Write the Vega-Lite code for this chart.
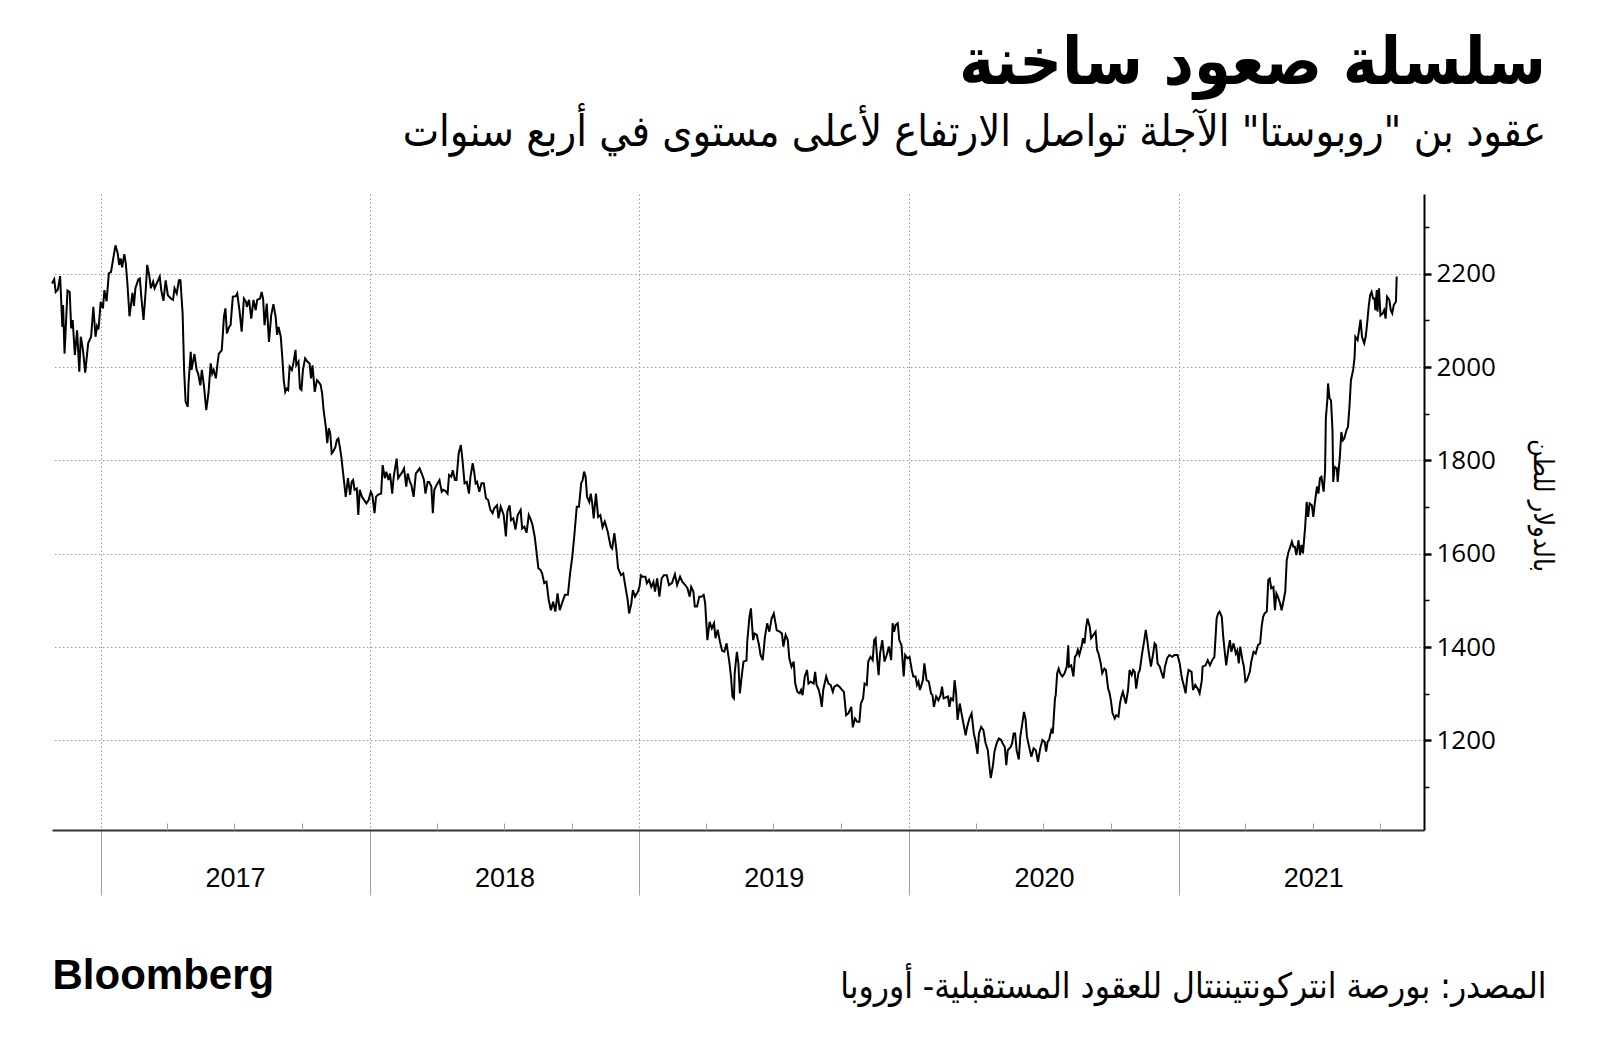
{
"$schema": "https://vega.github.io/schema/vega-lite/v6.json",
"autosize": {"type": "none"},
"width": 1372,
"height": 636,
"padding": {"left": 52, "top": 194, "right": 176, "bottom": 224},
"background": "white",
"title": {
  "text": "سلسلة صعود ساخنة",
  "subtitle": "عقود بن \"روبوستا\" الآجلة تواصل الارتفاع لأعلى مستوى في أربع سنوات",
  "anchor": "end", "frame": "group", "dx": 122, "offset": 38,
  "font": "DejaVu Sans Condensed", "fontSize": 66, "fontWeight": "bold", "color": "#000000",
  "subtitleFont": "DejaVu Sans Condensed", "subtitleFontSize": 43, "subtitleColor": "#000000", "subtitlePadding": 14
},
"config": {"view": {"stroke": null}},
"data": {"values": [
{"date":"2016-10-27","price":2179},{"date":"2016-10-30","price":2188},{"date":"2016-11-01","price":2161},{"date":"2016-11-04","price":2166},{"date":"2016-11-07","price":2195},{"date":"2016-11-10","price":2086},{"date":"2016-11-11","price":2133},{"date":"2016-11-13","price":2029},{"date":"2016-11-17","price":2164},{"date":"2016-11-20","price":2161},{"date":"2016-11-22","price":2083},{"date":"2016-11-24","price":2101},{"date":"2016-11-27","price":2026},{"date":"2016-11-30","price":2079},{"date":"2016-12-03","price":1990},{"date":"2016-12-05","price":2065},{"date":"2016-12-08","price":2036},{"date":"2016-12-11","price":1988},{"date":"2016-12-15","price":2051},{"date":"2016-12-19","price":2065},{"date":"2016-12-22","price":2129},{"date":"2016-12-25","price":2065},{"date":"2016-12-27","price":2088},{"date":"2016-12-29","price":2081},
{"date":"2017-01-01","price":2140},{"date":"2017-01-04","price":2126},{"date":"2017-01-06","price":2165},{"date":"2017-01-09","price":2141},{"date":"2017-01-12","price":2201},{"date":"2017-01-15","price":2204},{"date":"2017-01-18","price":2233},{"date":"2017-01-21","price":2261},{"date":"2017-01-24","price":2244},{"date":"2017-01-26","price":2219},{"date":"2017-01-28","price":2233},{"date":"2017-01-30","price":2214},{"date":"2017-02-02","price":2242},{"date":"2017-02-04","price":2222},{"date":"2017-02-06","price":2183},{"date":"2017-02-09","price":2109},{"date":"2017-02-13","price":2159},{"date":"2017-02-15","price":2131},{"date":"2017-02-17","price":2169},{"date":"2017-02-21","price":2188},{"date":"2017-02-23","price":2190},{"date":"2017-02-25","price":2151},{"date":"2017-02-28","price":2101},{"date":"2017-03-03","price":2165},{"date":"2017-03-05","price":2219},{"date":"2017-03-08","price":2194},{"date":"2017-03-10","price":2169},{"date":"2017-03-13","price":2183},{"date":"2017-03-15","price":2169},{"date":"2017-03-22","price":2194},{"date":"2017-03-24","price":2165},{"date":"2017-03-27","price":2142},{"date":"2017-03-30","price":2186},{"date":"2017-04-02","price":2154},{"date":"2017-04-06","price":2147},{"date":"2017-04-09","price":2144},{"date":"2017-04-11","price":2169},{"date":"2017-04-14","price":2158},{"date":"2017-04-17","price":2186},{"date":"2017-04-19","price":2186},{"date":"2017-04-22","price":2115},{"date":"2017-04-24","price":1994},{"date":"2017-04-26","price":1926},{"date":"2017-04-29","price":1915},{"date":"2017-04-30","price":1965},{"date":"2017-05-03","price":2033},{"date":"2017-05-04","price":1994},{"date":"2017-05-08","price":2028},{"date":"2017-05-11","price":1994},{"date":"2017-05-13","price":1986},{"date":"2017-05-16","price":1961},{"date":"2017-05-18","price":1994},{"date":"2017-05-21","price":1958},{"date":"2017-05-24","price":1908},{"date":"2017-05-27","price":1944},{"date":"2017-05-30","price":2008},{"date":"2017-06-01","price":1986},{"date":"2017-06-03","price":1994},{"date":"2017-06-06","price":1976},{"date":"2017-06-08","price":2004},{"date":"2017-06-10","price":2029},{"date":"2017-06-14","price":2036},{"date":"2017-06-17","price":2108},{"date":"2017-06-19","price":2126},{"date":"2017-06-21","price":2072},{"date":"2017-06-24","price":2086},{"date":"2017-06-26","price":2090},{"date":"2017-06-29","price":2151},{"date":"2017-07-03","price":2152},{"date":"2017-07-05","price":2158},{"date":"2017-07-08","price":2122},{"date":"2017-07-11","price":2076},{"date":"2017-07-14","price":2147},{"date":"2017-07-17","price":2140},{"date":"2017-07-18","price":2129},{"date":"2017-07-21","price":2144},{"date":"2017-07-24","price":2104},{"date":"2017-07-27","price":2144},{"date":"2017-07-30","price":2122},{"date":"2017-08-01","price":2144},{"date":"2017-08-05","price":2147},{"date":"2017-08-07","price":2161},{"date":"2017-08-09","price":2147},{"date":"2017-08-11","price":2090},{"date":"2017-08-14","price":2136},{"date":"2017-08-17","price":2054},{"date":"2017-08-20","price":2111},{"date":"2017-08-23","price":2135},{"date":"2017-08-26","price":2108},{"date":"2017-08-28","price":2069},{"date":"2017-08-30","price":2086},{"date":"2017-09-02","price":2065},{"date":"2017-09-04","price":2022},{"date":"2017-09-06","price":1972},{"date":"2017-09-08","price":1947},{"date":"2017-09-10","price":1954},{"date":"2017-09-12","price":1951},{"date":"2017-09-14","price":2001},{"date":"2017-09-17","price":1994},{"date":"2017-09-19","price":2008},{"date":"2017-09-22","price":2037},{"date":"2017-09-23","price":2004},{"date":"2017-09-26","price":2012},{"date":"2017-09-28","price":1954},{"date":"2017-09-30","price":1951},{"date":"2017-10-02","price":1994},{"date":"2017-10-05","price":2019},{"date":"2017-10-08","price":2012},{"date":"2017-10-11","price":2008},{"date":"2017-10-13","price":1976},{"date":"2017-10-15","price":2004},{"date":"2017-10-18","price":1947},{"date":"2017-10-21","price":1972},{"date":"2017-10-23","price":1969},{"date":"2017-10-26","price":1962},{"date":"2017-10-28","price":1944},{"date":"2017-10-30","price":1908},{"date":"2017-11-02","price":1872},{"date":"2017-11-04","price":1837},{"date":"2017-11-06","price":1869},{"date":"2017-11-08","price":1858},{"date":"2017-11-10","price":1815},{"date":"2017-11-12","price":1819},{"date":"2017-11-15","price":1829},{"date":"2017-11-17","price":1844},{"date":"2017-11-19","price":1847},{"date":"2017-11-21","price":1829},{"date":"2017-11-23","price":1808},{"date":"2017-11-26","price":1765},{"date":"2017-11-29","price":1722},{"date":"2017-12-02","price":1762},{"date":"2017-12-05","price":1726},{"date":"2017-12-07","price":1754},{"date":"2017-12-09","price":1758},{"date":"2017-12-11","price":1737},{"date":"2017-12-14","price":1740},{"date":"2017-12-16","price":1683},{"date":"2017-12-18","price":1737},{"date":"2017-12-21","price":1722},{"date":"2017-12-24","price":1715},{"date":"2017-12-27","price":1708},{"date":"2017-12-30","price":1715},
{"date":"2018-01-02","price":1733},{"date":"2018-01-04","price":1726},{"date":"2018-01-07","price":1687},{"date":"2018-01-09","price":1722},{"date":"2018-01-12","price":1727},{"date":"2018-01-16","price":1729},{"date":"2018-01-18","price":1790},{"date":"2018-01-21","price":1762},{"date":"2018-01-23","price":1776},{"date":"2018-01-26","price":1758},{"date":"2018-01-28","price":1772},{"date":"2018-01-31","price":1729},{"date":"2018-02-02","price":1765},{"date":"2018-02-06","price":1804},{"date":"2018-02-08","price":1762},{"date":"2018-02-11","price":1769},{"date":"2018-02-14","price":1776},{"date":"2018-02-16","price":1783},{"date":"2018-02-19","price":1744},{"date":"2018-02-21","price":1772},{"date":"2018-02-24","price":1754},{"date":"2018-02-26","price":1747},{"date":"2018-03-01","price":1722},{"date":"2018-03-04","price":1772},{"date":"2018-03-06","price":1776},{"date":"2018-03-09","price":1783},{"date":"2018-03-12","price":1772},{"date":"2018-03-15","price":1758},{"date":"2018-03-17","price":1729},{"date":"2018-03-20","price":1754},{"date":"2018-03-22","price":1754},{"date":"2018-03-25","price":1744},{"date":"2018-03-27","price":1687},{"date":"2018-03-29","price":1737},{"date":"2018-04-01","price":1747},{"date":"2018-04-05","price":1758},{"date":"2018-04-08","price":1733},{"date":"2018-04-10","price":1737},{"date":"2018-04-13","price":1735},{"date":"2018-04-16","price":1729},{"date":"2018-04-18","price":1769},{"date":"2018-04-21","price":1765},{"date":"2018-04-23","price":1779},{"date":"2018-04-26","price":1758},{"date":"2018-04-28","price":1758},{"date":"2018-05-01","price":1815},{"date":"2018-05-04","price":1833},{"date":"2018-05-06","price":1804},{"date":"2018-05-09","price":1751},{"date":"2018-05-12","price":1754},{"date":"2018-05-15","price":1729},{"date":"2018-05-17","price":1765},{"date":"2018-05-20","price":1794},{"date":"2018-05-22","price":1776},{"date":"2018-05-24","price":1751},{"date":"2018-05-26","price":1754},{"date":"2018-05-29","price":1733},{"date":"2018-06-01","price":1751},{"date":"2018-06-04","price":1751},{"date":"2018-06-07","price":1719},{"date":"2018-06-10","price":1715},{"date":"2018-06-13","price":1694},{"date":"2018-06-16","price":1687},{"date":"2018-06-18","price":1697},{"date":"2018-06-22","price":1704},{"date":"2018-06-24","price":1676},{"date":"2018-06-27","price":1701},{"date":"2018-07-01","price":1683},{"date":"2018-07-04","price":1637},{"date":"2018-07-06","price":1690},{"date":"2018-07-09","price":1704},{"date":"2018-07-11","price":1672},{"date":"2018-07-14","price":1676},{"date":"2018-07-17","price":1652},{"date":"2018-07-20","price":1683},{"date":"2018-07-24","price":1694},{"date":"2018-07-26","price":1654},{"date":"2018-07-29","price":1658},{"date":"2018-08-01","price":1645},{"date":"2018-08-04","price":1683},{"date":"2018-08-07","price":1672},{"date":"2018-08-09","price":1662},{"date":"2018-08-12","price":1637},{"date":"2018-08-15","price":1597},{"date":"2018-08-17","price":1569},{"date":"2018-08-20","price":1565},{"date":"2018-08-22","price":1558},{"date":"2018-08-25","price":1537},{"date":"2018-08-28","price":1540},{"date":"2018-08-31","price":1501},{"date":"2018-09-03","price":1479},{"date":"2018-09-06","price":1497},{"date":"2018-09-09","price":1476},{"date":"2018-09-12","price":1515},{"date":"2018-09-15","price":1479},{"date":"2018-09-18","price":1494},{"date":"2018-09-22","price":1512},{"date":"2018-09-26","price":1512},{"date":"2018-09-29","price":1558},{"date":"2018-10-02","price":1594},{"date":"2018-10-05","price":1644},{"date":"2018-10-08","price":1701},{"date":"2018-10-11","price":1701},{"date":"2018-10-14","price":1751},{"date":"2018-10-16","price":1758},{"date":"2018-10-18","price":1776},{"date":"2018-10-20","price":1765},{"date":"2018-10-22","price":1722},{"date":"2018-10-25","price":1711},{"date":"2018-10-27","price":1729},{"date":"2018-10-29","price":1708},{"date":"2018-10-31","price":1676},{"date":"2018-11-03","price":1729},{"date":"2018-11-06","price":1679},{"date":"2018-11-09","price":1683},{"date":"2018-11-12","price":1657},{"date":"2018-11-15","price":1669},{"date":"2018-11-19","price":1647},{"date":"2018-11-23","price":1615},{"date":"2018-11-25","price":1611},{"date":"2018-11-28","price":1644},{"date":"2018-12-01","price":1604},{"date":"2018-12-03","price":1569},{"date":"2018-12-07","price":1554},{"date":"2018-12-10","price":1558},{"date":"2018-12-13","price":1529},{"date":"2018-12-16","price":1501},{"date":"2018-12-18","price":1472},{"date":"2018-12-21","price":1494},{"date":"2018-12-23","price":1522},{"date":"2018-12-26","price":1508},{"date":"2018-12-30","price":1519},
{"date":"2019-01-01","price":1529},{"date":"2019-01-03","price":1554},{"date":"2019-01-05","price":1551},{"date":"2019-01-09","price":1551},{"date":"2019-01-11","price":1537},{"date":"2019-01-14","price":1544},{"date":"2019-01-17","price":1529},{"date":"2019-01-20","price":1540},{"date":"2019-01-22","price":1519},{"date":"2019-01-25","price":1547},{"date":"2019-01-28","price":1508},{"date":"2019-01-31","price":1547},{"date":"2019-02-03","price":1554},{"date":"2019-02-07","price":1554},{"date":"2019-02-10","price":1533},{"date":"2019-02-14","price":1537},{"date":"2019-02-18","price":1556},{"date":"2019-02-21","price":1533},{"date":"2019-02-25","price":1551},{"date":"2019-02-28","price":1540},{"date":"2019-03-04","price":1533},{"date":"2019-03-07","price":1526},{"date":"2019-03-10","price":1508},{"date":"2019-03-12","price":1529},{"date":"2019-03-15","price":1519},{"date":"2019-03-17","price":1487},{"date":"2019-03-20","price":1487},{"date":"2019-03-23","price":1508},{"date":"2019-03-26","price":1508},{"date":"2019-03-29","price":1512},{"date":"2019-03-31","price":1494},{"date":"2019-04-03","price":1415},{"date":"2019-04-06","price":1454},{"date":"2019-04-09","price":1440},{"date":"2019-04-12","price":1451},{"date":"2019-04-14","price":1419},{"date":"2019-04-17","price":1437},{"date":"2019-04-20","price":1412},{"date":"2019-04-23","price":1392},{"date":"2019-04-26","price":1390},{"date":"2019-04-29","price":1408},{"date":"2019-05-03","price":1365},{"date":"2019-05-05","price":1337},{"date":"2019-05-07","price":1294},{"date":"2019-05-09","price":1290},{"date":"2019-05-10","price":1344},{"date":"2019-05-13","price":1390},{"date":"2019-05-15","price":1365},{"date":"2019-05-17","price":1301},{"date":"2019-05-20","price":1344},{"date":"2019-05-22","price":1369},{"date":"2019-05-26","price":1371},{"date":"2019-05-27","price":1411},{"date":"2019-05-30","price":1465},{"date":"2019-06-01","price":1483},{"date":"2019-06-04","price":1415},{"date":"2019-06-06","price":1429},{"date":"2019-06-09","price":1426},{"date":"2019-06-12","price":1404},{"date":"2019-06-14","price":1383},{"date":"2019-06-17","price":1372},{"date":"2019-06-20","price":1422},{"date":"2019-06-23","price":1451},{"date":"2019-06-26","price":1433},{"date":"2019-06-29","price":1461},{"date":"2019-07-02","price":1472},{"date":"2019-07-04","price":1454},{"date":"2019-07-06","price":1436},{"date":"2019-07-10","price":1433},{"date":"2019-07-13","price":1429},{"date":"2019-07-15","price":1401},{"date":"2019-07-18","price":1426},{"date":"2019-07-21","price":1415},{"date":"2019-07-23","price":1376},{"date":"2019-07-26","price":1358},{"date":"2019-07-29","price":1369},{"date":"2019-07-31","price":1322},{"date":"2019-08-03","price":1304},{"date":"2019-08-06","price":1301},{"date":"2019-08-08","price":1308},{"date":"2019-08-10","price":1297},{"date":"2019-08-13","price":1337},{"date":"2019-08-16","price":1351},{"date":"2019-08-18","price":1322},{"date":"2019-08-21","price":1326},{"date":"2019-08-25","price":1322},{"date":"2019-08-27","price":1347},{"date":"2019-08-29","price":1319},{"date":"2019-09-01","price":1308},{"date":"2019-09-03","price":1294},{"date":"2019-09-05","price":1272},{"date":"2019-09-07","price":1308},{"date":"2019-09-11","price":1337},{"date":"2019-09-14","price":1322},{"date":"2019-09-17","price":1319},{"date":"2019-09-20","price":1304},{"date":"2019-09-22","price":1315},{"date":"2019-09-26","price":1319},{"date":"2019-09-29","price":1315},{"date":"2019-10-01","price":1311},{"date":"2019-10-05","price":1304},{"date":"2019-10-08","price":1254},{"date":"2019-10-11","price":1258},{"date":"2019-10-15","price":1272},{"date":"2019-10-17","price":1228},{"date":"2019-10-20","price":1247},{"date":"2019-10-23","price":1240},{"date":"2019-10-26","price":1240},{"date":"2019-10-28","price":1279},{"date":"2019-10-31","price":1290},{"date":"2019-11-02","price":1322},{"date":"2019-11-05","price":1319},{"date":"2019-11-07","price":1369},{"date":"2019-11-10","price":1379},{"date":"2019-11-13","price":1372},{"date":"2019-11-15","price":1415},{"date":"2019-11-17","price":1419},{"date":"2019-11-19","price":1376},{"date":"2019-11-21","price":1340},{"date":"2019-11-23","price":1386},{"date":"2019-11-26","price":1415},{"date":"2019-11-29","price":1369},{"date":"2019-12-02","price":1383},{"date":"2019-12-05","price":1401},{"date":"2019-12-08","price":1372},{"date":"2019-12-10","price":1451},{"date":"2019-12-12","price":1433},{"date":"2019-12-14","price":1447},{"date":"2019-12-17","price":1451},{"date":"2019-12-19","price":1415},{"date":"2019-12-22","price":1404},{"date":"2019-12-25","price":1337},{"date":"2019-12-27","price":1383},{"date":"2019-12-30","price":1376},
{"date":"2020-01-02","price":1379},{"date":"2020-01-05","price":1351},{"date":"2020-01-07","price":1337},{"date":"2020-01-10","price":1337},{"date":"2020-01-12","price":1319},{"date":"2020-01-14","price":1326},{"date":"2020-01-16","price":1308},{"date":"2020-01-20","price":1329},{"date":"2020-01-22","price":1365},{"date":"2020-01-25","price":1329},{"date":"2020-01-28","price":1326},{"date":"2020-01-31","price":1301},{"date":"2020-02-02","price":1297},{"date":"2020-02-04","price":1272},{"date":"2020-02-07","price":1294},{"date":"2020-02-10","price":1286},{"date":"2020-02-13","price":1297},{"date":"2020-02-15","price":1315},{"date":"2020-02-17","price":1290},{"date":"2020-02-23","price":1294},{"date":"2020-02-25","price":1272},{"date":"2020-02-27","price":1290},{"date":"2020-03-01","price":1286},{"date":"2020-03-03","price":1329},{"date":"2020-03-05","price":1301},{"date":"2020-03-07","price":1244},{"date":"2020-03-10","price":1279},{"date":"2020-03-12","price":1261},{"date":"2020-03-14","price":1244},{"date":"2020-03-18","price":1211},{"date":"2020-03-20","price":1229},{"date":"2020-03-23","price":1247},{"date":"2020-03-26","price":1258},{"date":"2020-03-29","price":1215},{"date":"2020-03-31","price":1201},{"date":"2020-04-03","price":1171},{"date":"2020-04-05","price":1215},{"date":"2020-04-08","price":1229},{"date":"2020-04-11","price":1222},{"date":"2020-04-14","price":1194},{"date":"2020-04-17","price":1179},{"date":"2020-04-19","price":1147},{"date":"2020-04-21","price":1119},{"date":"2020-04-24","price":1147},{"date":"2020-04-26","price":1176},{"date":"2020-04-29","price":1194},{"date":"2020-05-02","price":1204},{"date":"2020-05-05","price":1201},{"date":"2020-05-07","price":1194},{"date":"2020-05-10","price":1186},{"date":"2020-05-12","price":1147},{"date":"2020-05-14","price":1179},{"date":"2020-05-18","price":1186},{"date":"2020-05-20","price":1194},{"date":"2020-05-22","price":1215},{"date":"2020-05-24","price":1215},{"date":"2020-05-26","price":1179},{"date":"2020-05-29","price":1159},{"date":"2020-05-31","price":1208},{"date":"2020-06-02","price":1229},{"date":"2020-06-05","price":1261},{"date":"2020-06-07","price":1247},{"date":"2020-06-09","price":1208},{"date":"2020-06-12","price":1186},{"date":"2020-06-15","price":1165},{"date":"2020-06-18","price":1183},{"date":"2020-06-21","price":1179},{"date":"2020-06-24","price":1154},{"date":"2020-06-27","price":1183},{"date":"2020-06-30","price":1201},{"date":"2020-07-03","price":1197},{"date":"2020-07-05","price":1176},{"date":"2020-07-07","price":1197},{"date":"2020-07-09","price":1201},{"date":"2020-07-12","price":1222},{"date":"2020-07-14","price":1215},{"date":"2020-07-17","price":1290},{"date":"2020-07-18","price":1297},{"date":"2020-07-20","price":1344},{"date":"2020-07-22","price":1354},{"date":"2020-07-24","price":1344},{"date":"2020-07-27","price":1337},{"date":"2020-07-30","price":1344},{"date":"2020-08-02","price":1358},{"date":"2020-08-04","price":1404},{"date":"2020-08-05","price":1358},{"date":"2020-08-08","price":1361},{"date":"2020-08-11","price":1337},{"date":"2020-08-13","price":1379},{"date":"2020-08-15","price":1383},{"date":"2020-08-17","price":1394},{"date":"2020-08-19","price":1383},{"date":"2020-08-22","price":1401},{"date":"2020-08-24","price":1419},{"date":"2020-08-26","price":1408},{"date":"2020-08-28","price":1440},{"date":"2020-08-30","price":1461},{"date":"2020-09-02","price":1444},{"date":"2020-09-04","price":1419},{"date":"2020-09-07","price":1426},{"date":"2020-09-10","price":1433},{"date":"2020-09-12","price":1394},{"date":"2020-09-14","price":1386},{"date":"2020-09-17","price":1365},{"date":"2020-09-19","price":1344},{"date":"2020-09-22","price":1354},{"date":"2020-09-24","price":1351},{"date":"2020-09-27","price":1311},{"date":"2020-09-29","price":1301},{"date":"2020-10-01","price":1283},{"date":"2020-10-03","price":1258},{"date":"2020-10-06","price":1247},{"date":"2020-10-08","price":1254},{"date":"2020-10-11","price":1251},{"date":"2020-10-13","price":1279},{"date":"2020-10-15","price":1294},{"date":"2020-10-17","price":1304},{"date":"2020-10-21","price":1279},{"date":"2020-10-24","price":1308},{"date":"2020-10-26","price":1351},{"date":"2020-10-29","price":1340},{"date":"2020-10-31","price":1351},{"date":"2020-11-02","price":1347},{"date":"2020-11-04","price":1311},{"date":"2020-11-07","price":1344},{"date":"2020-11-09","price":1351},{"date":"2020-11-12","price":1386},{"date":"2020-11-15","price":1415},{"date":"2020-11-17","price":1437},{"date":"2020-11-19","price":1415},{"date":"2020-11-21","price":1390},{"date":"2020-11-24","price":1358},{"date":"2020-11-27","price":1386},{"date":"2020-11-29","price":1408},{"date":"2020-12-01","price":1404},{"date":"2020-12-03","price":1365},{"date":"2020-12-06","price":1358},{"date":"2020-12-08","price":1347},{"date":"2020-12-11","price":1333},{"date":"2020-12-13","price":1358},{"date":"2020-12-16","price":1376},{"date":"2020-12-19","price":1383},{"date":"2020-12-23","price":1379},{"date":"2020-12-26","price":1383},{"date":"2020-12-30","price":1383},
{"date":"2021-01-02","price":1365},{"date":"2021-01-05","price":1333},{"date":"2021-01-08","price":1315},{"date":"2021-01-10","price":1301},{"date":"2021-01-12","price":1333},{"date":"2021-01-14","price":1351},{"date":"2021-01-18","price":1347},{"date":"2021-01-20","price":1308},{"date":"2021-01-23","price":1319},{"date":"2021-01-27","price":1309},{"date":"2021-01-29","price":1301},{"date":"2021-02-01","price":1329},{"date":"2021-02-02","price":1358},{"date":"2021-02-06","price":1361},{"date":"2021-02-09","price":1372},{"date":"2021-02-12","price":1361},{"date":"2021-02-15","price":1372},{"date":"2021-02-18","price":1379},{"date":"2021-02-21","price":1461},{"date":"2021-02-23","price":1472},{"date":"2021-02-25","price":1476},{"date":"2021-02-28","price":1465},{"date":"2021-03-02","price":1422},{"date":"2021-03-04","price":1390},{"date":"2021-03-06","price":1361},{"date":"2021-03-09","price":1397},{"date":"2021-03-11","price":1415},{"date":"2021-03-13","price":1390},{"date":"2021-03-16","price":1408},{"date":"2021-03-19","price":1386},{"date":"2021-03-21","price":1393},{"date":"2021-03-23","price":1365},{"date":"2021-03-25","price":1401},{"date":"2021-03-28","price":1372},{"date":"2021-03-30","price":1358},{"date":"2021-04-01","price":1326},{"date":"2021-04-03","price":1329},{"date":"2021-04-07","price":1347},{"date":"2021-04-09","price":1369},{"date":"2021-04-12","price":1390},{"date":"2021-04-15","price":1386},{"date":"2021-04-18","price":1404},{"date":"2021-04-21","price":1408},{"date":"2021-04-23","price":1444},{"date":"2021-04-25","price":1465},{"date":"2021-04-27","price":1472},{"date":"2021-04-30","price":1476},{"date":"2021-05-02","price":1544},{"date":"2021-05-04","price":1547},{"date":"2021-05-06","price":1526},{"date":"2021-05-09","price":1529},{"date":"2021-05-11","price":1479},{"date":"2021-05-13","price":1515},{"date":"2021-05-15","price":1508},{"date":"2021-05-18","price":1494},{"date":"2021-05-20","price":1479},{"date":"2021-05-22","price":1494},{"date":"2021-05-25","price":1519},{"date":"2021-05-27","price":1586},{"date":"2021-05-29","price":1601},{"date":"2021-05-31","price":1611},{"date":"2021-06-03","price":1626},{"date":"2021-06-05","price":1615},{"date":"2021-06-07","price":1615},{"date":"2021-06-09","price":1597},{"date":"2021-06-12","price":1629},{"date":"2021-06-14","price":1597},{"date":"2021-06-16","price":1619},{"date":"2021-06-18","price":1601},{"date":"2021-06-21","price":1658},{"date":"2021-06-23","price":1711},{"date":"2021-06-25","price":1679},{"date":"2021-06-27","price":1708},{"date":"2021-06-30","price":1704},{"date":"2021-07-02","price":1679},{"date":"2021-07-04","price":1708},{"date":"2021-07-07","price":1744},{"date":"2021-07-09","price":1729},{"date":"2021-07-11","price":1762},{"date":"2021-07-13","price":1765},{"date":"2021-07-16","price":1733},{"date":"2021-07-18","price":1779},{"date":"2021-07-19","price":1890},{"date":"2021-07-21","price":1929},{"date":"2021-07-22","price":1965},{"date":"2021-07-24","price":1933},{"date":"2021-07-26","price":1929},{"date":"2021-07-28","price":1865},{"date":"2021-07-29","price":1754},{"date":"2021-07-31","price":1786},{"date":"2021-08-03","price":1783},{"date":"2021-08-04","price":1754},{"date":"2021-08-07","price":1808},{"date":"2021-08-09","price":1861},{"date":"2021-08-11","price":1843},{"date":"2021-08-13","price":1847},{"date":"2021-08-16","price":1865},{"date":"2021-08-18","price":1872},{"date":"2021-08-20","price":1915},{"date":"2021-08-22","price":1972},{"date":"2021-08-25","price":1994},{"date":"2021-08-27","price":2022},{"date":"2021-08-28","price":2065},{"date":"2021-08-31","price":2058},{"date":"2021-09-02","price":2079},{"date":"2021-09-04","price":2102},{"date":"2021-09-06","price":2065},{"date":"2021-09-09","price":2051},{"date":"2021-09-11","price":2065},{"date":"2021-09-13","price":2094},{"date":"2021-09-15","price":2129},{"date":"2021-09-17","price":2154},{"date":"2021-09-19","price":2161},{"date":"2021-09-21","price":2147},{"date":"2021-09-23","price":2147},{"date":"2021-09-24","price":2122},{"date":"2021-09-26","price":2165},{"date":"2021-09-27","price":2119},{"date":"2021-09-29","price":2169},{"date":"2021-10-01","price":2111},{"date":"2021-10-04","price":2115},{"date":"2021-10-06","price":2122},{"date":"2021-10-08","price":2104},{"date":"2021-10-10","price":2151},{"date":"2021-10-13","price":2144},{"date":"2021-10-15","price":2122},{"date":"2021-10-17","price":2115},{"date":"2021-10-19","price":2133},{"date":"2021-10-22","price":2140},{"date":"2021-10-23","price":2194}
]},
"layer": [
  {
    "mark": {"type": "line", "color": "#000000", "strokeWidth": 2, "interpolate": "linear"},
    "encoding": {
      "x": {"field": "date", "type": "temporal",
        "scale": {"domain": [{"year": 2016, "month": 10, "date": 27}, {"year": 2021, "month": 11, "date": 29}]},
        "axis": {
          "orient": "bottom",
          "values": [{"year": 2017, "month": 1, "date": 1}, {"year": 2018, "month": 1, "date": 1}, {"year": 2019, "month": 1, "date": 1}, {"year": 2020, "month": 1, "date": 1}, {"year": 2021, "month": 1, "date": 1}],
          "labels": false, "ticks": true, "tickSize": 65, "tickColor": "#a0a0a0", "tickWidth": 1,
          "grid": true, "gridColor": "#9a9a9a", "gridDash": [1.5, 2.5], "gridWidth": 1,
          "domain": true, "domainColor": "#333333", "domainWidth": 2,
          "title": "المصدر: بورصة انتركونتيننتال للعقود المستقبلية- أوروبا",
          "titleX": 1494, "titleY": 156, "titleAlign": "right", "titleAnchor": null, "titleBaseline": "middle",
          "titleFont": "DejaVu Sans Condensed", "titleFontSize": 35, "titleFontWeight": "normal", "titleColor": "#000000"
        }
      },
      "y": {"field": "price", "type": "quantitative",
        "scale": {"domain": [1008, 2371], "nice": false, "zero": false},
        "axis": {
          "orient": "right", "values": [1200, 1400, 1600, 1800, 2000, 2200], "format": "d",
          "tickSize": 7, "tickWidth": 2.5, "tickColor": "#000000",
          "labelFont": "Open Sans", "labelFontSize": 26, "labelColor": "#000000", "labelPadding": 5,
          "labelOverlap": false, "labelFlush": false, "labelBaseline": "middle",
          "grid": true, "gridColor": "#9a9a9a", "gridDash": [1.5, 2.5], "gridWidth": 1,
          "domain": true, "domainColor": "#000000", "domainWidth": 2,
          "title": "بالدولار للطن", "titleAngle": 90, "titleX": 117, "titleY": 311,
          "titleAlign": "center", "titleBaseline": "middle",
          "titleFont": "DejaVu Sans Condensed", "titleFontSize": 27, "titleFontWeight": "normal", "titleColor": "#000000"
        }
      }
    }
  },
  {
    "mark": {"type": "line", "strokeOpacity": 0},
    "encoding": {
      "x": {"field": "date", "type": "temporal",
        "axis": {
          "orient": "bottom",
          "values": [{"year": 2017, "month": 4, "date": 1}, {"year": 2017, "month": 7, "date": 1}, {"year": 2017, "month": 10, "date": 1}, {"year": 2018, "month": 4, "date": 1}, {"year": 2018, "month": 7, "date": 1}, {"year": 2018, "month": 10, "date": 1}, {"year": 2019, "month": 4, "date": 1}, {"year": 2019, "month": 7, "date": 1}, {"year": 2019, "month": 10, "date": 1}, {"year": 2020, "month": 4, "date": 1}, {"year": 2020, "month": 7, "date": 1}, {"year": 2020, "month": 10, "date": 1}, {"year": 2021, "month": 4, "date": 1}, {"year": 2021, "month": 7, "date": 1}, {"year": 2021, "month": 10, "date": 1}],
          "labels": false, "ticks": true, "tickSize": -7, "tickColor": "#a0a0a0", "tickWidth": 1,
          "grid": false, "domain": false,
          "title": "Bloomberg", "titleX": 0, "titleY": 145, "titleAlign": "left", "titleAnchor": null, "titleBaseline": "middle",
          "titleFont": "Liberation Sans", "titleFontSize": 42, "titleFontWeight": "bold", "titleColor": "#000000"
        }
      },
      "y": {"field": "price", "type": "quantitative",
        "axis": {
          "orient": "right", "values": [1100, 1300, 1500, 1700, 1900, 2100, 2300],
          "tickSize": 5, "tickWidth": 1.5, "tickColor": "#000000",
          "labels": false, "grid": false, "domain": false, "title": null
        }
      }
    }
  },
  {
    "mark": {"type": "line", "strokeOpacity": 0},
    "encoding": {
      "x": {"field": "date", "type": "temporal",
        "axis": {
          "orient": "bottom",
          "values": [{"year": 2017, "month": 7, "date": 2}, {"year": 2018, "month": 7, "date": 2}, {"year": 2019, "month": 7, "date": 2}, {"year": 2020, "month": 7, "date": 2}, {"year": 2021, "month": 7, "date": 2}],
          "format": "%Y", "labels": true, "ticks": false, "tickSize": 0, "labelPadding": 48,
          "labelBaseline": "middle", "labelAlign": "center", "labelFlush": false, "labelOverlap": false,
          "labelFont": "Liberation Sans", "labelFontSize": 27, "labelColor": "#000000",
          "grid": false, "domain": false, "title": null
        }
      },
      "y": {"field": "price", "type": "quantitative", "axis": null}
    }
  }
],
"resolve": {"axis": {"x": "independent", "y": "independent"}}
}
